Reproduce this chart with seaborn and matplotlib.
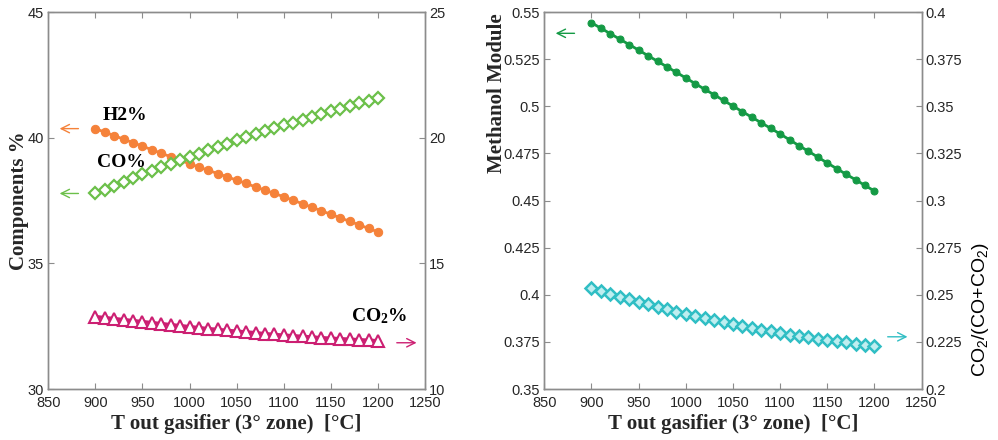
import matplotlib
matplotlib.use("Agg")
import matplotlib.pyplot as plt
import seaborn as sns
from matplotlib.ticker import FuncFormatter

# temperature at gasifier exit, 3rd zone [°C]
t_out = [900, 910, 920, 930, 940, 950, 960, 970, 980, 990, 1000,
         1010, 1020, 1030, 1040, 1050, 1060, 1070, 1080, 1090, 1100,
         1110, 1120, 1130, 1140, 1150, 1160, 1170, 1180, 1190, 1200]

h2_pct = [40.36, 40.22, 40.08, 39.94, 39.80, 39.66, 39.52, 39.38, 39.24, 39.10, 38.96,
          38.83, 38.70, 38.57, 38.44, 38.31, 38.18, 38.04, 37.91, 37.78, 37.65,
          37.51, 37.37, 37.23, 37.09, 36.95, 36.81, 36.67, 36.53, 36.39, 36.25]

co_pct = [37.78, 37.93, 38.09, 38.24, 38.39, 38.54, 38.68, 38.82, 38.96, 39.10, 39.24,
          39.37, 39.50, 39.63, 39.76, 39.89, 40.01, 40.13, 40.25, 40.37, 40.49,
          40.60, 40.71, 40.83, 40.94, 41.05, 41.15, 41.26, 41.36, 41.47, 41.57]

co2_pct = [12.88, 12.84, 12.80, 12.76, 12.72, 12.68, 12.64, 12.60, 12.56, 12.52, 12.48,
           12.44, 12.40, 12.37, 12.33, 12.30, 12.27, 12.24, 12.20, 12.17, 12.14,
           12.12, 12.09, 12.07, 12.04, 12.02, 12.00, 11.98, 11.96, 11.94, 11.92]

methanol_module = [0.5443, 0.5414, 0.5385, 0.5356, 0.5327, 0.5298, 0.5268, 0.5239, 0.5209, 0.5180, 0.5150,
                   0.5120, 0.5090, 0.5061, 0.5031, 0.5001, 0.4971, 0.4942, 0.4912, 0.4883, 0.4853,
                   0.4822, 0.4791, 0.4761, 0.4730, 0.4699, 0.4669, 0.4639, 0.4610, 0.4580, 0.4550]

co2_ratio = [0.2534, 0.2519, 0.2504, 0.2490, 0.2476, 0.2462, 0.2449, 0.2436, 0.2423, 0.2410, 0.2398,
             0.2387, 0.2376, 0.2365, 0.2354, 0.2343, 0.2333, 0.2324, 0.2315, 0.2306, 0.2297,
             0.2289, 0.2282, 0.2275, 0.2267, 0.2260, 0.2253, 0.2247, 0.2240, 0.2234, 0.2228]

C_H2 = "#f5823a"
C_CO = "#6cc04a"
C_CO2 = "#cc1f72"
C_MM = "#149a45"
C_RATIO = "#30bec4"
SPINE = "#8c8c8c"
TICK_TXT = "#262626"

sns.set_theme(style="ticks")
plt.rcParams["font.family"] = ["Liberation Sans", "DejaVu Sans"]
plt.rcParams["mathtext.default"] = "regular"

fig = plt.figure(figsize=(9.98, 4.40), dpi=100)
ax1 = fig.add_axes([0.0484, 0.1159, 0.3775, 0.8568])
ax2 = fig.add_axes([0.5454, 0.1159, 0.3781, 0.8568])

label_font = dict(family=["Liberation Serif", "DejaVu Serif"], weight="bold", size=15)
note_font = dict(family=["Liberation Serif", "DejaVu Serif"], weight="bold", size=14)


def style_axis(ax, side):
    for s in ax.spines.values():
        s.set_color(SPINE)
        s.set_linewidth(1.0)
    ax.tick_params(direction="in", length=4, width=0.8, color=SPINE,
                   labelsize=10.5, labelcolor=TICK_TXT, pad=3)
    if side == "left":
        ax.tick_params(top=True, right=False)
        ax.tick_params(axis="x", pad=5)
    else:
        ax.tick_params(left=False, right=True)


# ---- left panel: gas composition
ax1r = ax1.twinx()
sns.lineplot(x=t_out, y=h2_pct, ax=ax1, color=C_H2, lw=2, marker="o",
             markersize=6, markeredgecolor=C_H2)
sns.lineplot(x=t_out, y=co_pct, ax=ax1, color=C_CO, lw=2, marker="D",
             markersize=6, markerfacecolor="white", markeredgecolor=C_CO,
             markeredgewidth=1.6)
sns.lineplot(x=t_out, y=co2_pct, ax=ax1r, color=C_CO2, lw=2.5, marker="^",
             markersize=8, markerfacecolor="white", markeredgecolor=C_CO2,
             markeredgewidth=1.5)

ax1.set_xlim(850, 1250)
ax1.set_ylim(30, 45)
ax1.set_yticks([30, 35, 40, 45])
ax1r.set_ylim(10, 25)
ax1r.set_yticks([10, 15, 20, 25])
ax1.set_xticks(range(850, 1251, 50))
ax1.set_xlabel("T out gasifier (3° zone)  [°C]", **label_font, labelpad=3)
ax1.set_ylabel("Components %", **label_font)
ax1.yaxis.set_label_coords(-0.05, 0.5)
style_axis(ax1, "left")
style_axis(ax1r, "right")

ax1.text(931, 40.88, "H2%", ha="center", va="center", color="black", **note_font)
ax1.text(928, 39.0, "CO%", ha="center", va="center", color="black", **note_font)
ax1.text(1201, 32.9, "CO$_2$%", ha="center", va="center", color="black",
         **note_font)

arrow = dict(arrowstyle="->", lw=1.0, mutation_scale=15, shrinkA=0, shrinkB=0)
ax1.annotate("", xy=(862, 40.36), xytext=(882, 40.36),
             arrowprops=dict(arrow, color=C_H2))
ax1.annotate("", xy=(862, 37.78), xytext=(882, 37.78),
             arrowprops=dict(arrow, color=C_CO))
ax1r.annotate("", xy=(1241, 11.84), xytext=(1220, 11.84),
              arrowprops=dict(arrow, color=C_CO2))

# ---- right panel: methanol module and CO2 ratio
ax2r = ax2.twinx()
sns.lineplot(x=t_out, y=methanol_module, ax=ax2, color=C_MM, lw=2, marker="o",
             markersize=5, markeredgecolor=C_MM)
sns.lineplot(x=t_out, y=co2_ratio, ax=ax2r, color=C_RATIO, lw=2, marker="D",
             markersize=6, markerfacecolor="#bfeef0", markeredgecolor=C_RATIO,
             markeredgewidth=1.8)

ax2.set_xlim(850, 1250)
ax2.set_xticks(range(850, 1251, 50))
ax2.set_ylim(0.35, 0.55)
ax2.set_yticks([0.35, 0.375, 0.4, 0.425, 0.45, 0.475, 0.5, 0.525, 0.55])
ax2r.set_ylim(0.2, 0.4)
ax2r.set_yticks([0.2, 0.225, 0.25, 0.275, 0.3, 0.325, 0.35, 0.375, 0.4])
fmt = FuncFormatter(lambda v, p: f"{v:g}")
ax2.yaxis.set_major_formatter(fmt)
ax2r.yaxis.set_major_formatter(fmt)
ax2.set_xlabel("T out gasifier (3° zone)  [°C]", **label_font, labelpad=3)
ax2.set_ylabel("Methanol Module", **label_font)
ax2.yaxis.set_label_coords(-0.1, 0.785)
ax2r.set_ylabel("CO$_2$/(CO+CO$_2$)", size=14, color="black")
ax2r.yaxis.set_label_coords(1.128, 0.21)
style_axis(ax2, "left")
style_axis(ax2r, "right")

ax2.annotate("", xy=(862, 0.5387), xytext=(882, 0.5387),
             arrowprops=dict(arrow, color=C_MM))
ax2r.annotate("", xy=(1235, 0.2277), xytext=(1214, 0.2277),
              arrowprops=dict(arrow, color=C_RATIO))

fig.savefig("out.png", dpi=100)
